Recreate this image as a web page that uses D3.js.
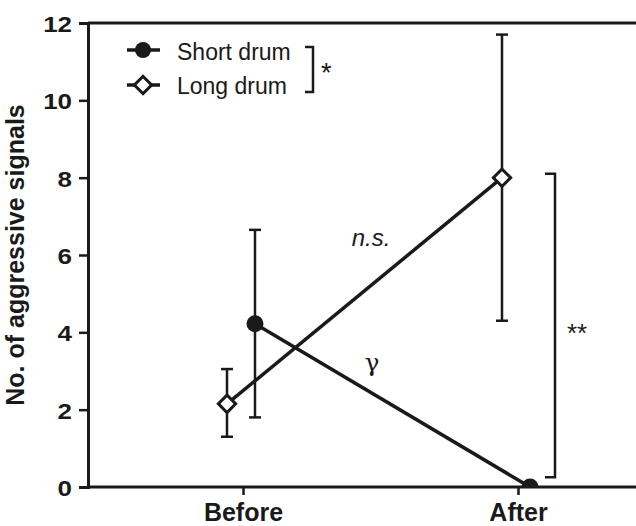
<!DOCTYPE html>
<html>
<head>
<meta charset="utf-8">
<script src="https://cdn.jsdelivr.net/npm/d3@7"></script>
<style>
  body { margin: 0; background: #fff; }
  svg { font-family: "Liberation Sans", Arial, sans-serif; }
</style>
</head>
<body>
<div id="chart-area"></div>
<script>
// data
const phases = ["Before", "After"]
const shortMean = [4.22, 0]
const shortUpper = [6.65, null]
const shortLower = [1.8, null]
const longMean = [2.15, 8.0]
const longUpper = [3.05, 11.7]
const longLower = [1.3, 4.3]
const yTicks = [0, 2, 4, 6, 8, 10, 12]

const W = 636, H = 526
const MARGIN = { LEFT: 88, RIGHT: 0, TOP: 23, BOTTOM: 39 }
const FONT = "Liberation Sans, Arial, sans-serif"

const svg = d3.select("#chart-area").append("svg")
  .attr("width", W)
  .attr("height", H)

const y = d3.scaleLinear()
  .domain([0, 12])
  .range([H - MARGIN.BOTTOM, MARGIN.TOP])

const x = d3.scalePoint()
  .domain(phases)
  .range([243, 518])

const OFF = { short: 12, long: -16 }
const ink = "#1a1a1a"

// clip for marks so the After point sits on the axis
svg.append("clipPath").attr("id", "plot")
  .append("rect")
  .attr("x", MARGIN.LEFT).attr("y", 0)
  .attr("width", W - MARGIN.LEFT).attr("height", y(0) - 1)

// axes
const yAxis = svg.append("g")
  .attr("transform", `translate(${MARGIN.LEFT},0)`)
  .call(d3.axisLeft(y).tickValues(yTicks).tickSize(9).tickPadding(3))
yAxis.select(".domain").attr("stroke-width", 3).attr("stroke", ink)
yAxis.selectAll(".tick line").attr("stroke-width", 2.5).attr("stroke", ink)
yAxis.selectAll(".tick text")
  .attr("font-size", "22px").attr("font-weight", "bold").attr("fill", ink)
  .attr("font-family", FONT)
  .attr("transform", "scale(1.18,1)")
  .attr("x", -16 / 1.18)
  .attr("dy", "0.38em")

const xAxis = svg.append("g")
  .attr("transform", `translate(0,${y(0)})`)
  .call(d3.axisBottom(x).tickSize(8).tickPadding(4))
xAxis.select(".domain").attr("d", `M${MARGIN.LEFT},0H${W}`)
  .attr("stroke-width", 3).attr("stroke", ink)
xAxis.selectAll(".tick line").attr("stroke-width", 2.5).attr("stroke", ink)
xAxis.selectAll(".tick text")
  .attr("font-size", "25px").attr("font-weight", "bold").attr("fill", ink)
  .attr("font-family", FONT)
  .attr("y", 34).attr("dy", 0)

// top border
svg.append("line")
  .attr("x1", MARGIN.LEFT).attr("x2", W)
  .attr("y1", y(12)).attr("y2", y(12))
  .attr("stroke", ink).attr("stroke-width", 3)

// y label
svg.append("text")
  .attr("transform", `translate(24,${(y(0) + y(12)) / 2}) rotate(-90)`)
  .attr("text-anchor", "middle")
  .attr("font-size", "25px")
  .attr("font-weight", "bold")
  .attr("fill", ink)
  .text("No. of aggressive signals")

const marks = svg.append("g").attr("clip-path", "url(#plot)")

function errorBars(mean, up, lo, off) {
  phases.forEach((p, i) => {
    if (up[i] == null) return
    const cx = x(p) + off
    marks.append("line")
      .attr("x1", cx).attr("x2", cx)
      .attr("y1", y(up[i])).attr("y2", y(lo[i]))
      .attr("stroke", ink).attr("stroke-width", 2.5)
    ;[up[i], lo[i]].forEach(v => {
      marks.append("line")
        .attr("x1", cx - 6).attr("x2", cx + 6)
        .attr("y1", y(v)).attr("y2", y(v))
        .attr("stroke", ink).attr("stroke-width", 2.5)
    })
  })
}

errorBars(shortMean, shortUpper, shortLower, OFF.short)
errorBars(longMean, longUpper, longLower, OFF.long)

const line = off => d3.line()
  .x((d, i) => x(phases[i]) + off)
  .y(d => y(d))

marks.append("path")
  .attr("d", line(OFF.short)(shortMean))
  .attr("fill", "none").attr("stroke", ink).attr("stroke-width", 3.5)
marks.append("path")
  .attr("d", line(OFF.long)(longMean))
  .attr("fill", "none").attr("stroke", ink).attr("stroke-width", 3.5)

marks.selectAll(".short-pt")
  .data(shortMean)
  .enter().append("circle")
  .attr("class", "short-pt")
  .attr("cx", (d, i) => x(phases[i]) + OFF.short)
  .attr("cy", d => y(d))
  .attr("r", 8.5)
  .attr("fill", ink)

const diamond = d3.symbol().type(d3.symbolSquare).size(150)
marks.selectAll(".long-pt")
  .data(longMean)
  .enter().append("path")
  .attr("class", "long-pt")
  .attr("d", diamond)
  .attr("transform", (d, i) => `translate(${x(phases[i]) + OFF.long},${y(d)}) rotate(45)`)
  .attr("fill", "#fff")
  .attr("stroke", ink)
  .attr("stroke-width", 3)

// legend
const leg = svg.append("g")
leg.append("line").attr("x1", 127).attr("x2", 160).attr("y1", 50).attr("y2", 50)
  .attr("stroke", ink).attr("stroke-width", 3.5)
leg.append("circle").attr("cx", 143).attr("cy", 50).attr("r", 8).attr("fill", ink)
leg.append("line").attr("x1", 127).attr("x2", 160).attr("y1", 85).attr("y2", 85)
  .attr("stroke", ink).attr("stroke-width", 3.5)
leg.append("path").attr("d", diamond)
  .attr("transform", "translate(143,85) rotate(45)")
  .attr("fill", "#fff").attr("stroke", ink).attr("stroke-width", 3)
leg.append("text").attr("x", 177).attr("y", 60).attr("font-size", "23px").attr("fill", ink).text("Short drum")
leg.append("text").attr("x", 177).attr("y", 94).attr("font-size", "23px").attr("fill", ink).text("Long drum")
leg.append("path").attr("d", "M305,47H313V92H305")
  .attr("fill", "none").attr("stroke", ink).attr("stroke-width", 2.5)
leg.append("text").attr("x", 321).attr("y", 82).attr("font-size", "27px").attr("fill", ink).text("*")

// annotations
svg.append("path").attr("d", `M545,${y(8.1)}H555V${y(0.25)}H545`)
  .attr("fill", "none").attr("stroke", ink).attr("stroke-width", 2.5)
svg.append("text").attr("x", 567).attr("y", 342).attr("font-size", "26px").attr("fill", ink).text("**")
svg.append("text").attr("x", 371).attr("y", 246).attr("font-size", "24px")
  .attr("font-style", "italic").attr("text-anchor", "middle").attr("fill", ink).text("n.s.")
svg.append("text").attr("x", 372).attr("y", 371).attr("font-size", "25px")
  .attr("font-family", "DejaVu Serif, serif").attr("text-anchor", "middle").attr("fill", ink).text("γ")
</script>
</body>
</html>
